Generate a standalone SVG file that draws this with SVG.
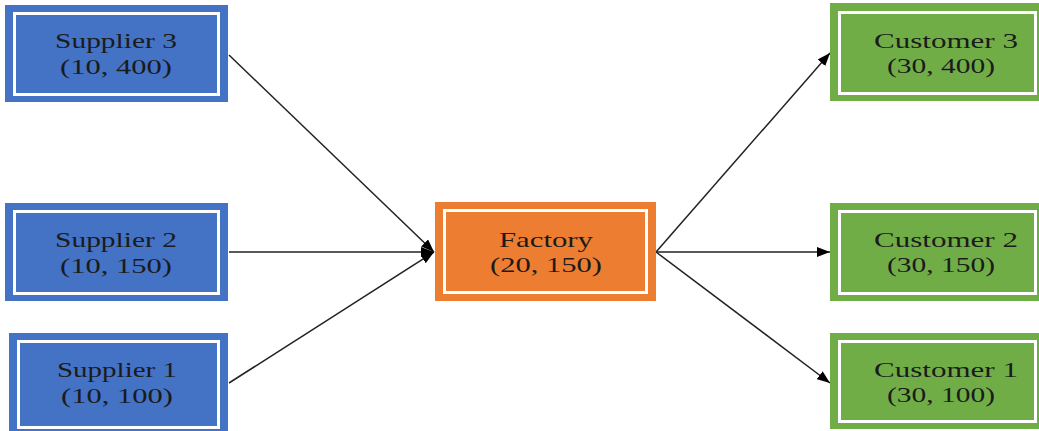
<svg xmlns="http://www.w3.org/2000/svg" width="1039" height="431" viewBox="0 0 1039 431">
<style>
.sup{fill:#4472C4}
.fac{fill:#ED7D31}
.cus{fill:#70AD47}
.inner{fill:none;stroke:#ffffff;stroke-width:3}
.lbl{font-family:"Liberation Serif","Times New Roman",serif;font-size:21px;fill:#1b1b1b;text-anchor:middle}
.edge{stroke:#222;stroke-width:1.5;fill:none;marker-end:url(#ah)}
</style>
<defs>
<marker id="ah" viewBox="0 0 13 10" refX="13" refY="5" markerWidth="13" markerHeight="10" markerUnits="userSpaceOnUse" orient="auto">
<path d="M0,0 L13,5 L0,10 Z" fill="#000"/>
</marker>
</defs>
<rect width="1039" height="431" fill="#ffffff"/>
<g id="connectors">
<line class="edge" x1="229" y1="55" x2="434" y2="252"/>
<line class="edge" x1="229" y1="252" x2="434" y2="252"/>
<line class="edge" x1="229" y1="383" x2="434" y2="252"/>
<line class="edge" x1="656" y1="252" x2="830" y2="53"/>
<line class="edge" x1="656" y1="252" x2="830" y2="252"/>
<line class="edge" x1="656" y1="252" x2="830" y2="383"/>
</g>
<g id="supplier3">
<rect class="sup" x="5" y="5" width="223" height="97"/>
<rect class="inner" x="14.5" y="13.5" width="204" height="81"/>
<text class="lbl" x="116" y="48" textLength="122" lengthAdjust="spacingAndGlyphs">Supplier 3</text>
<text class="lbl" x="116" y="74" textLength="112" lengthAdjust="spacingAndGlyphs">(10, 400)</text>
</g>
<g id="supplier2">
<rect class="sup" x="5" y="203" width="223" height="98"/>
<rect class="inner" x="14.5" y="211.5" width="204" height="82"/>
<text class="lbl" x="116" y="247" textLength="122" lengthAdjust="spacingAndGlyphs">Supplier 2</text>
<text class="lbl" x="116" y="273" textLength="112" lengthAdjust="spacingAndGlyphs">(10, 150)</text>
</g>
<g id="supplier1">
<rect class="sup" x="9" y="333" width="219" height="100"/>
<rect class="inner" x="18.5" y="341.5" width="200" height="86"/>
<text class="lbl" x="117" y="377" textLength="120" lengthAdjust="spacingAndGlyphs">Supplier 1</text>
<text class="lbl" x="117" y="403" textLength="112" lengthAdjust="spacingAndGlyphs">(10, 100)</text>
</g>
<g id="factory">
<rect class="fac" x="435" y="202" width="221" height="99"/>
<rect class="inner" x="444.5" y="210.5" width="202" height="82"/>
<text class="lbl" x="546" y="247" textLength="94" lengthAdjust="spacingAndGlyphs">Factory</text>
<text class="lbl" x="546" y="272" textLength="112" lengthAdjust="spacingAndGlyphs">(20, 150)</text>
</g>
<g id="customer3">
<rect class="cus" x="830" y="3" width="215" height="98"/>
<rect class="inner" x="839.5" y="12.5" width="196" height="81"/>
<text class="lbl" x="946" y="48" textLength="144" lengthAdjust="spacingAndGlyphs">Customer 3</text>
<text class="lbl" x="941" y="73" textLength="108" lengthAdjust="spacingAndGlyphs">(30, 400)</text>
</g>
<g id="customer2">
<rect class="cus" x="830" y="203" width="215" height="98"/>
<rect class="inner" x="839.5" y="211.5" width="196" height="82"/>
<text class="lbl" x="946" y="247" textLength="144" lengthAdjust="spacingAndGlyphs">Customer 2</text>
<text class="lbl" x="941" y="272" textLength="108" lengthAdjust="spacingAndGlyphs">(30, 150)</text>
</g>
<g id="customer1">
<rect class="cus" x="830" y="333" width="215" height="96"/>
<rect class="inner" x="839.5" y="341.5" width="196" height="80"/>
<text class="lbl" x="946" y="377" textLength="144" lengthAdjust="spacingAndGlyphs">Customer 1</text>
<text class="lbl" x="941" y="402" textLength="108" lengthAdjust="spacingAndGlyphs">(30, 100)</text>
</g>
</svg>
